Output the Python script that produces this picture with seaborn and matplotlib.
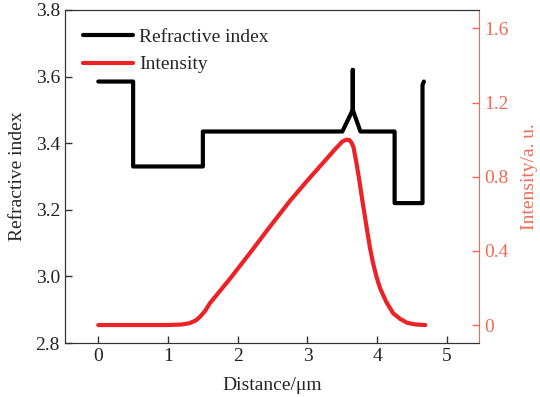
import numpy as np
import pandas as pd
import seaborn as sns
import matplotlib.pyplot as plt
from matplotlib.ticker import FuncFormatter

sns.set_style("ticks")
plt.rcParams['font.family'] = ['Liberation Serif', 'DejaVu Serif']
plt.rcParams['mathtext.fontset'] = 'stix'

# refractive index profile (step structure)
ri_x = [0.0, 0.5, 0.5, 1.5, 1.5, 3.5, 3.65, 3.65, 3.65, 3.76, 4.25, 4.25, 4.65, 4.65, 4.67]
ri_n = [3.585, 3.585, 3.33, 3.33, 3.435, 3.435, 3.50, 3.62, 3.50, 3.435, 3.435, 3.22, 3.22, 3.575, 3.585]

# optical intensity
int_x = [0.0, 0.5, 1.0, 1.2, 1.31, 1.4, 1.46, 1.53, 1.60, 1.9, 2.17, 2.45, 2.75, 3.0,
         3.2, 3.4, 3.5, 3.56, 3.6, 3.63, 3.66, 3.70, 3.74, 3.78, 3.82, 3.86, 3.90,
         3.94, 3.99, 4.04, 4.13, 4.23, 4.33, 4.43, 4.55, 4.69]
int_v = [0.0, 0.0, 0.0, 0.003, 0.01, 0.025, 0.045, 0.075, 0.117, 0.255, 0.386, 0.525, 0.67, 0.78,
         0.865, 0.95, 0.99, 1.0, 0.998, 0.985, 0.96, 0.88, 0.79, 0.69, 0.595, 0.50, 0.41,
         0.335, 0.26, 0.20, 0.125, 0.063, 0.033, 0.012, 0.003, 0.0]

ri = pd.DataFrame({"x": ri_x, "n": ri_n})
inten = pd.DataFrame({"x": int_x, "I": int_v})

red_line = "#ec2227"
red_axis = "#f26a52"

fig, ax = plt.subplots(figsize=(5.4, 3.97), dpi=100)
fig.subplots_adjust(left=0.12, right=0.887, bottom=0.136, top=0.975)
ax2 = ax.twinx()

sns.lineplot(data=ri, x="x", y="n", sort=False, estimator=None, color="black",
             lw=3, ax=ax, label="Refractive index", legend=False)
sns.lineplot(data=inten, x="x", y="I", sort=False, estimator=None, color=red_line,
             lw=3, ax=ax2, label="Intensity", legend=False)

ax.set_xlim(-0.48, 5.46)
ax.set_ylim(2.8, 3.8)
ax2.set_ylim(-0.097, 1.70)
ax.set_xticks([0, 1, 2, 3, 4, 5])
ax.set_yticks([2.8, 3.0, 3.2, 3.4, 3.6, 3.8])
ax2.set_yticks([0, 0.4, 0.8, 1.2, 1.6])
ax2.yaxis.set_major_formatter(FuncFormatter(lambda v, p: "0" if abs(v) < 1e-9 else f"{v:.1f}"))
ax.yaxis.set_major_formatter(FuncFormatter(lambda v, p: f"{v:.1f}"))

ax.set_xlabel("Distance/μm", fontsize=14, labelpad=9)
ax.set_ylabel("Refractive index", fontsize=14, labelpad=7)
ax2.set_ylabel("Intensity/a. u.", fontsize=14, color=red_axis, labelpad=9)

ax.tick_params(axis="both", direction="in", labelsize=14, length=5, width=1, colors="#333333")
ax.tick_params(axis="both", labelcolor="#222222")
ax2.tick_params(axis="y", direction="in", labelsize=14, length=5, width=1,
                colors=red_axis)

for s in ["left", "bottom", "top"]:
    ax.spines[s].set_color("#333333")
    ax2.spines[s].set_color("#333333")
ax2.spines["right"].set_color(red_axis)
ax.spines["right"].set_visible(False)

h1, l1 = ax.get_legend_handles_labels()
h2, l2 = ax2.get_legend_handles_labels()
ax.legend(h1 + h2, l1 + l2, loc="upper left", frameon=False, fontsize=14,
          handlelength=2.6, handletextpad=0.3, labelspacing=0.5,
          borderaxespad=0.3, bbox_to_anchor=(0.01, 0.985))

fig.savefig("out.png", dpi=100)
